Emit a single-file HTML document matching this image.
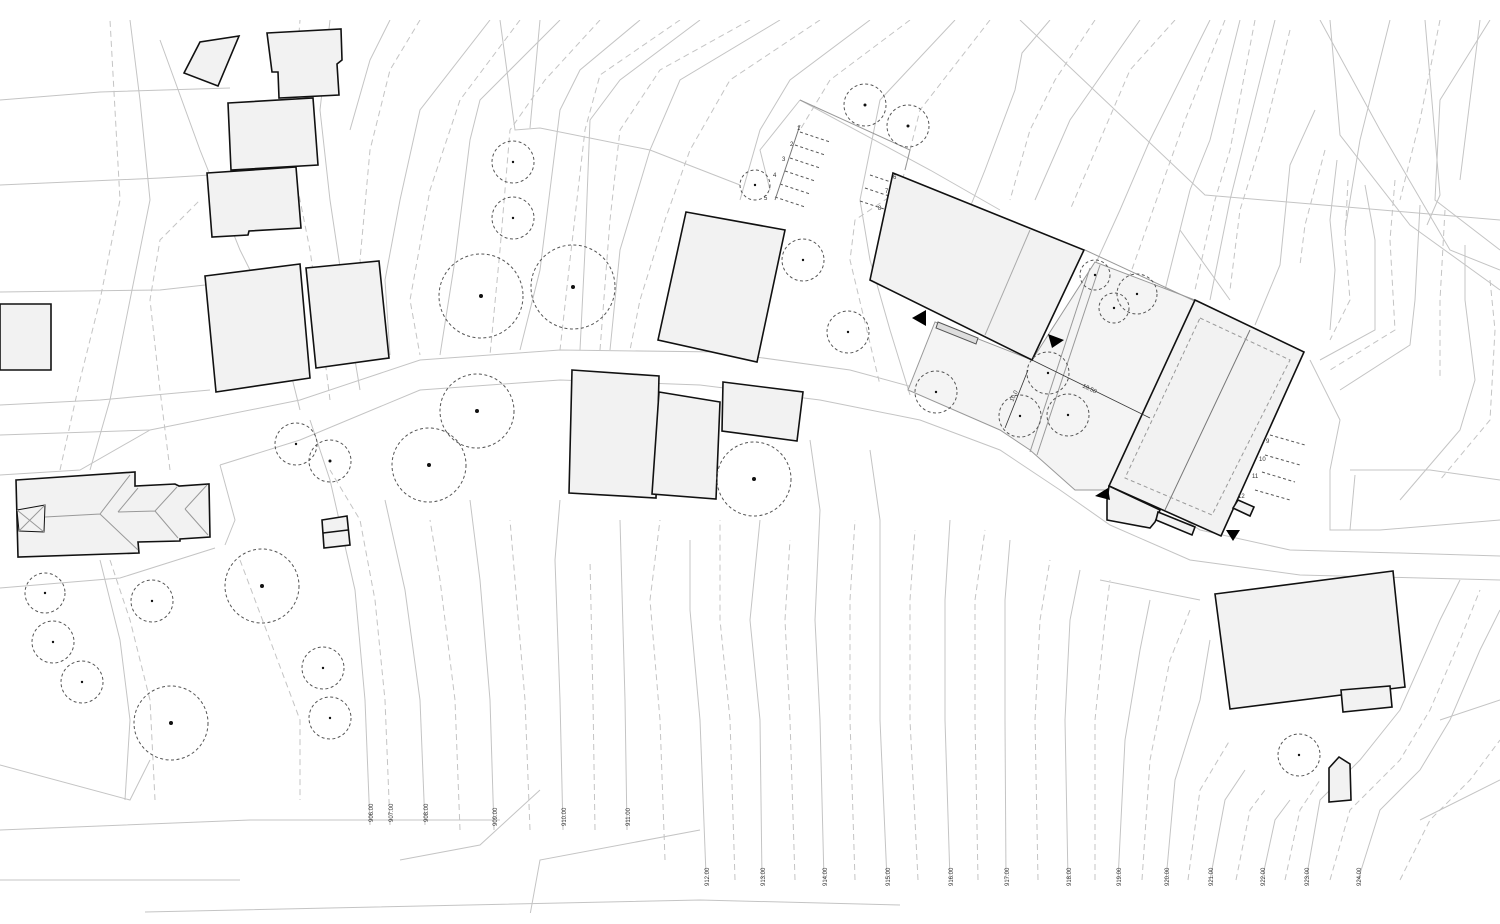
<!DOCTYPE html>
<html><head><meta charset="utf-8"><style>
html,body{margin:0;padding:0;background:#fff;}
svg{display:block;}
.b{fill:#f2f2f2;stroke:#111;stroke-width:1.6;stroke-linejoin:miter;}
.c{fill:none;stroke:#c4c4c4;stroke-width:1;}
.d{fill:none;stroke:#c4c4c4;stroke-width:1;stroke-dasharray:6 4;}
.t{fill:none;stroke:#555;stroke-width:1;stroke-dasharray:3 2.5;}
.lbl{font-family:"Liberation Sans",sans-serif;font-size:6px;fill:#333;}
</style></head><body>
<svg width="1500" height="924" viewBox="0 0 1500 924" xmlns="http://www.w3.org/2000/svg">
<defs><clipPath id="cp"><rect x="0" y="20" width="1500" height="893"/></clipPath></defs>
<g clip-path="url(#cp)">
<!-- property lines -->
<g class="c">
<path d="M0,100 L100,92 L230,88"/>
<path d="M0,185 L160,178 L210,175"/>
<path d="M0,292 L160,290 L205,285"/>
<path d="M0,405 L100,400 L210,390"/>
<path d="M0,588 L120,578 L215,548"/>
<path d="M0,765 L130,800 L150,760"/>
<path d="M0,830 L250,820 L500,820"/>
<path d="M0,880 L240,880"/>
<path d="M145,912 L700,900 L900,905"/>
<path d="M400,860 L480,845 L540,790"/>
<path d="M530,915 L540,860 L700,830"/>
<path d="M800,100 L930,170 L1000,210"/>
<path d="M800,100 L760,150 L770,190"/>
<path d="M500,20 L515,130 L540,128 L650,150 L740,185"/>
<path d="M540,20 L530,128"/>
<path d="M1020,20 L1205,195 L1500,220"/>
<path d="M1320,20 L1380,130 L1450,250 L1500,270"/>
<path d="M1330,20 L1340,135 L1410,225 L1500,290"/>
<path d="M1425,20 L1440,195 L1427,225"/>
<path d="M1490,20 L1440,100 L1435,200 L1500,250"/>
<path d="M1180,230 L1230,300"/>
<path d="M1310,360 L1340,420 L1330,470 L1330,530 L1380,530 L1500,520"/>
<path d="M1350,470 L1430,470 L1500,480"/>
<path d="M1355,475 L1350,530"/>
<path d="M1100,580 L1200,600"/>
<path d="M1420,820 L1500,780"/>
<path d="M1440,720 L1500,700"/>
</g>
<!-- road -->
<g class="c" stroke-width="1.2">
<path d="M0,435 L150,430 L300,400 L420,360 L560,350 L720,352 L850,370 L960,400 L1060,440 L1110,470 L1200,530 L1290,550 L1400,553 L1500,556"/>
<path d="M0,475 L80,470 L150,430"/>
<path d="M220,465 L300,440 L420,390 L560,380 L700,385 L820,400 L920,420 L1000,450 L1060,490 L1110,525 L1190,560 L1300,575 L1500,580"/>
<path d="M220,465 L235,520 L225,545"/>
</g>
<!-- contour lines lower -->
<g>
<path class="c" d="M370,825 L365,700 L355,590 L330,480 L310,420"/>
<path class="d" d="M390,825 L385,700 L375,600 L360,520 L330,470"/>
<path class="c" d="M425,825 L420,700 L405,590 L385,500"/>
<path class="d" d="M460,830 L455,700 L440,580 L430,520"/>
<path class="c" d="M494,830 L490,700 L480,580 L470,500"/>
<path class="d" d="M530,830 L525,700 L515,580 L510,520"/>
<path class="c" d="M563,830 L560,700 L555,560 L560,500"/>
<path class="d" d="M595,830 L593,700 L590,560"/>
<path class="c" d="M627,830 L625,700 L620,520"/>
<path class="d" d="M665,860 L660,720 L650,600 L660,520"/>
<path class="c" d="M706,875 L700,720 L690,610 L690,540"/>
<path class="d" d="M735,880 L730,720 L720,620 L720,520"/>
<path class="c" d="M762,880 L760,720 L750,620 L760,520"/>
<path class="d" d="M795,880 L790,720 L785,620 L790,540"/>
<path class="c" d="M824,880 L820,720 L815,620 L820,510 L810,440"/>
<path class="d" d="M855,880 L850,720 L850,600 L855,520"/>
<path class="c" d="M887,880 L880,720 L880,600 L880,520 L870,450"/>
<path class="d" d="M918,880 L910,720 L910,600 L915,530"/>
<path class="c" d="M950,880 L945,720 L945,600 L950,520"/>
<path class="d" d="M978,880 L975,720 L975,600 L985,530"/>
<path class="c" d="M1006,880 L1005,720 L1005,600 L1010,540"/>
<path class="d" d="M1038,880 L1035,720 L1040,620 L1050,560"/>
<path class="c" d="M1068,880 L1065,720 L1070,620 L1080,570"/>
<path class="d" d="M1095,880 L1095,720 L1105,620 L1110,580"/>
<path class="c" d="M1118,880 L1125,740 L1140,650 L1150,600"/>
<path class="d" d="M1142,880 L1150,760 L1170,660 L1190,610"/>
<path class="c" d="M1166,880 L1175,780 L1200,700 L1210,640"/>
<path class="d" d="M1188,880 L1200,790 L1230,740"/>
<path class="c" d="M1210,880 L1225,800 L1245,770"/>
<path class="d" d="M1236,880 L1250,810 L1265,790"/>
<path class="c" d="M1262,880 L1275,820 L1290,800"/>
<path class="d" d="M1285,880 L1300,810 L1320,780"/>
<path class="c" d="M1306,880 L1320,800 L1360,760 L1400,710 L1440,620 L1460,580"/>
<path class="d" d="M1330,880 L1350,810 L1400,760 L1430,710 L1460,640 L1480,590"/>
<path class="c" d="M1358,880 L1380,810 L1420,770 L1450,720 L1480,650 L1500,610"/>
<path class="d" d="M1400,880 L1430,820 L1470,780 L1500,740"/>
<!-- upper-left contours -->
<path class="c" d="M300,410 L280,330 L240,250 L200,150 L160,40"/>
<path class="d" d="M330,400 L320,320 L310,250 L290,150 L300,20"/>
<path class="c" d="M360,390 L345,300 L330,200 L320,110 L330,20"/>
<path class="c" d="M90,470 L110,400 L130,300 L150,200 L140,100 L130,20"/>
<path class="d" d="M60,470 L80,380 L100,300 L120,200 L110,20"/>
<path class="d" d="M170,470 L160,390 L150,300 L160,240 L200,200"/>
<path class="c" d="M100,560 L120,640 L130,720 L125,800"/>
<path class="d" d="M110,560 L130,620 L150,700 L155,800"/>
<path class="d" d="M240,560 L270,640 L300,720 L300,800"/>
<!-- upper-middle diagonal contours -->
<path class="c" d="M390,20 L370,60 L350,130"/>
<path class="d" d="M420,20 L390,70 L370,150 L360,260 L375,350"/>
<path class="c" d="M490,20 L420,110 L400,200 L385,280 L390,355"/>
<path class="d" d="M520,20 L460,100 L430,190 L410,300 L420,355"/>
<path class="c" d="M560,20 L480,100 L470,140 L455,260 L440,355"/>
<path class="d" d="M600,20 L545,80 L510,130 L500,250 L490,355"/>
<path class="c" d="M640,20 L580,70 L560,110 L540,270 L520,350"/>
<path class="d" d="M680,20 L600,75 L585,130 L570,260 L560,350"/>
<path class="c" d="M700,20 L620,80 L590,120 L585,250 L580,350"/>
<path class="d" d="M750,20 L660,70 L620,130 L610,220 L600,350"/>
<path class="c" d="M780,20 L680,80 L650,150 L620,250 L610,350"/>
<path class="d" d="M820,20 L730,80 L690,150 L665,220 L640,300 L630,350"/>
<path class="c" d="M870,20 L790,80 L760,130 L740,200"/>
<path class="d" d="M910,20 L830,80 L800,130"/>
<path class="c" d="M955,20 L880,100 L860,200 L870,260 L890,330 L910,395"/>
<path class="d" d="M990,20 L920,110 L900,190 L855,220 L850,260 L880,385"/>
<!-- upper-right contours -->
<path class="c" d="M1050,20 L1022,53 L1015,90 L985,170 L965,220"/>
<path class="d" d="M1095,20 L1055,80 L1030,130 L1010,200"/>
<path class="c" d="M1140,20 L1070,120 L1035,200"/>
<path class="d" d="M1175,20 L1130,70 L1100,140 L1070,210"/>
<path class="c" d="M1210,20 L1150,140 L1120,210 L1095,265"/>
<path class="d" d="M1225,20 L1185,120 L1160,190 L1130,275"/>
<path class="c" d="M1240,20 L1210,140 L1190,190 L1165,290"/>
<path class="d" d="M1255,20 L1230,150 L1215,200 L1195,290"/>
<path class="c" d="M1275,20 L1245,140 L1230,200 L1210,300"/>
<path class="d" d="M1290,30 L1265,130 L1240,210 L1230,290"/>
<path class="c" d="M1315,110 L1290,165 L1280,265 L1255,325"/>
<path class="d" d="M1325,150 L1305,225 L1300,265"/>
<path class="c" d="M1337,160 L1330,220 L1335,270 L1330,330"/>
<path class="d" d="M1348,180 L1345,240 L1350,300 L1330,340"/>
<path class="c" d="M1365,185 L1375,240 L1375,330 L1320,360"/>
<path class="d" d="M1395,180 L1390,240 L1395,330 L1330,370"/>
<path class="c" d="M1420,205 L1415,300 L1410,345 L1340,390"/>
<path class="d" d="M1445,210 L1440,300 L1440,380"/>
<path class="c" d="M1465,245 L1465,300 L1475,380 L1460,430 L1400,500"/>
<path class="d" d="M1490,280 L1495,330 L1490,420 L1440,480"/>
<path class="c" d="M1390,20 L1360,140 L1345,230"/>
<path class="d" d="M1440,20 L1420,120 L1400,200"/>
<path class="c" d="M1480,20 L1470,100 L1460,180"/>
</g>
<!-- parking lines -->
<g class="t" stroke="#777">
<path d="M800,132 L830,142"/><path d="M795,145 L825,155"/><path d="M790,158 L820,168"/><path d="M785,171 L815,181"/><path d="M780,184 L810,194"/><path d="M775,197 L805,207"/>
<path d="M870,175 L900,185"/><path d="M865,188 L895,198"/><path d="M860,201 L890,211"/>
<path d="M1270,435 L1305,445"/><path d="M1265,455 L1300,465"/><path d="M1262,472 L1295,482"/><path d="M1255,490 L1290,500"/>
</g>
<path d="M800,125 L775,200" stroke="#777" stroke-width="1" fill="none"/>
<path d="M800,100 L910,150 L905,170" stroke="#999" fill="none"/>
<!-- paved courtyard -->
<path d="M935,322 L1032,360 L1095,262 L1195,300 L1110,490 L1075,490 L1030,450 L1000,430 L908,390 Z" fill="#f4f4f4" stroke="#999" stroke-width="1"/>
<path d="M1030,452 L1090,268" stroke="#999" fill="none"/><path d="M1037,455 L1100,265" stroke="#999" fill="none"/>
<path d="M1085,250 L1300,350" stroke="#999" fill="none"/>
<!-- buildings -->
<polygon class="b" points="184,73 200,42 239,36 218,86"/>
<polygon class="b" points="267,33 341,29 342,60 337,64 339,95 279,98 278,72 272,72"/>
<polygon class="b" points="228,103 313,98 318,165 231,170"/>
<polygon class="b" points="207,173 296,167 301,228 249,231 248,235 212,237"/>
<polygon class="b" points="205,276 300,264 310,378 216,392"/>
<polygon class="b" points="306,268 379,261 389,358 316,368"/>
<polygon class="b" points="0,304 51,304 51,370 0,370"/>
<polygon class="b" points="686,212 785,230 757,362 658,340"/>
<polygon class="b" points="572,370 659,376 656,498 569,493"/>
<polygon class="b" points="659,392 720,402 716,499 652,494"/>
<polygon class="b" points="723,382 803,392 797,441 722,431"/>
<polygon class="b" points="893,173 1084,250 1032,360 870,280"/>
<line x1="1030" y1="230" x2="985" y2="335" stroke="#aaa"/>
<polygon class="b" points="1195,300 1304,352 1221,536 1109,486"/>
<line x1="1250" y1="330" x2="1165" y2="510" stroke="#777"/>
<polygon points="1200,318 1290,360 1212,515 1125,478" fill="none" stroke="#999" stroke-dasharray="4 3"/>
<polygon class="b" points="1109,486 1160,510 1155,522 1150,528 1107,520 1107,500"/>
<polygon class="b" points="1158,512 1195,527 1192,535 1156,520"/>
<polygon class="b" points="1238,500 1254,507 1250,516 1233,508"/>
<polygon class="b" points="1215,594 1393,571 1405,687 1230,709"/>
<polygon class="b" points="1341,690 1390,686 1392,707 1343,712"/>
<polygon class="b" points="1329,768 1339,757 1350,764 1351,800 1329,802"/>
<polygon class="b" points="322,520 347,516 350,545 324,548"/>
<line x1="323" y1="533" x2="348" y2="530" stroke="#111" stroke-width="1.4"/>
<!-- left house -->
<polygon class="b" points="16,480 135,472 135,486 175,484 179,486 209,484 210,537 180,539 180,541 138,542 139,553 18,557"/>
<g stroke="#999" fill="none">
<path d="M17,510 L45,505 L44,532 L19,531 Z" stroke="#111" fill="#f2f2f2"/>
<path d="M17,510 L44,532 M45,505 L19,531"/>
<path d="M45,517 L100,514 L130,475 M100,514 L138,550"/>
<path d="M118,512 L155,511 L177,487 M155,511 L178,538 M118,512 L138,488"/>
<path d="M185,509 L207,485 M185,509 L208,535"/>
</g>
<!-- stairs -->
<g stroke="#555"><path d="M938,322 L978,338 L976,344 L936,328 Z" fill="#ddd"/></g>
<!-- trees -->
<g class="t">
<circle cx="865" cy="105" r="21"/><circle cx="908" cy="126" r="21"/><circle cx="513" cy="162" r="21"/><circle cx="513" cy="218" r="21"/>
<circle cx="481" cy="296" r="42"/><circle cx="573" cy="287" r="42"/><circle cx="755" cy="185" r="15"/><circle cx="803" cy="260" r="21"/>
<circle cx="848" cy="332" r="21"/><circle cx="477" cy="411" r="37"/><circle cx="429" cy="465" r="37"/><circle cx="296" cy="444" r="21"/>
<circle cx="330" cy="461" r="21"/><circle cx="262" cy="586" r="37"/><circle cx="45" cy="593" r="20"/><circle cx="152" cy="601" r="21"/>
<circle cx="53" cy="642" r="21"/><circle cx="82" cy="682" r="21"/><circle cx="323" cy="668" r="21"/><circle cx="330" cy="718" r="21"/>
<circle cx="171" cy="723" r="37"/><circle cx="754" cy="479" r="37"/><circle cx="936" cy="392" r="21"/><circle cx="1020" cy="416" r="21"/>
<circle cx="1048" cy="373" r="21"/><circle cx="1068" cy="415" r="21"/><circle cx="1095" cy="275" r="15"/><circle cx="1137" cy="294" r="20"/>
<circle cx="1114" cy="308" r="15"/><circle cx="1299" cy="755" r="21"/>
</g>
<g fill="#111">
<circle cx="865" cy="105" r="1.5"/><circle cx="908" cy="126" r="1.5"/><circle cx="513" cy="162" r="1.2"/><circle cx="513" cy="218" r="1.2"/>
<circle cx="481" cy="296" r="2"/><circle cx="573" cy="287" r="2"/><circle cx="755" cy="185" r="1.2"/><circle cx="803" cy="260" r="1.2"/>
<circle cx="848" cy="332" r="1.2"/><circle cx="477" cy="411" r="2"/><circle cx="429" cy="465" r="2"/><circle cx="296" cy="444" r="1.2"/>
<circle cx="330" cy="461" r="1.5"/><circle cx="262" cy="586" r="2"/><circle cx="45" cy="593" r="1.2"/><circle cx="152" cy="601" r="1.2"/>
<circle cx="53" cy="642" r="1.2"/><circle cx="82" cy="682" r="1.2"/><circle cx="323" cy="668" r="1.2"/><circle cx="330" cy="718" r="1.2"/>
<circle cx="171" cy="723" r="2"/><circle cx="754" cy="479" r="2"/><circle cx="936" cy="392" r="1.2"/><circle cx="1020" cy="416" r="1.2"/>
<circle cx="1048" cy="373" r="1.2"/><circle cx="1068" cy="415" r="1.2"/><circle cx="1095" cy="275" r="1.2"/><circle cx="1137" cy="294" r="1.2"/>
<circle cx="1114" cy="308" r="1.2"/><circle cx="1299" cy="755" r="1.2"/>
</g>
<!-- dimension lines -->
<g stroke="#333" stroke-width="0.8" fill="none">
<path d="M1032,360 L1150,418"/>
<path d="M1028,370 L1005,428"/>
</g>
<text class="lbl" transform="translate(1082,387) rotate(26)">18.50</text>
<text class="lbl" transform="translate(1013,402) rotate(-65)">10.0</text>
<!-- entrance triangles -->
<g fill="#000">
<polygon points="912,318 926,310 926,326"/>
<polygon points="1048,334 1064,340 1052,348"/>
<polygon points="1095,496 1108,488 1110,500"/>
<polygon points="1226,530 1240,530 1233,541"/>
</g>
<!-- parking numbers -->
<g class="lbl" font-size="6">
<text x="797" y="130">1</text><text x="790" y="146">2</text><text x="782" y="161">3</text><text x="773" y="177">4</text><text x="764" y="200">5</text>
<text x="893" y="179">6</text><text x="885" y="193">7</text><text x="878" y="210">8</text>
<text x="1266" y="443">9</text><text x="1259" y="461">10</text><text x="1252" y="478">11</text><text x="1238" y="498">12</text>
</g>
<!-- contour labels -->
<g class="lbl" font-size="6">
<text transform="translate(373,822) rotate(-90)">906.00</text>
<text transform="translate(393,822) rotate(-90)">907.00</text>
<text transform="translate(428,822) rotate(-90)">908.00</text>
<text transform="translate(497,826) rotate(-90)">909.00</text>
<text transform="translate(566,826) rotate(-90)">910.00</text>
<text transform="translate(630,826) rotate(-90)">911.00</text>
<text transform="translate(709,886) rotate(-90)">912.00</text>
<text transform="translate(765,886) rotate(-90)">913.00</text>
<text transform="translate(827,886) rotate(-90)">914.00</text>
<text transform="translate(890,886) rotate(-90)">915.00</text>
<text transform="translate(953,886) rotate(-90)">916.00</text>
<text transform="translate(1009,886) rotate(-90)">917.00</text>
<text transform="translate(1071,886) rotate(-90)">918.00</text>
<text transform="translate(1121,886) rotate(-90)">919.00</text>
<text transform="translate(1169,886) rotate(-90)">920.00</text>
<text transform="translate(1213,886) rotate(-90)">921.00</text>
<text transform="translate(1265,886) rotate(-90)">922.00</text>
<text transform="translate(1309,886) rotate(-90)">923.00</text>
<text transform="translate(1361,886) rotate(-90)">924.00</text>
</g>
</g>
</svg>
</body></html>
